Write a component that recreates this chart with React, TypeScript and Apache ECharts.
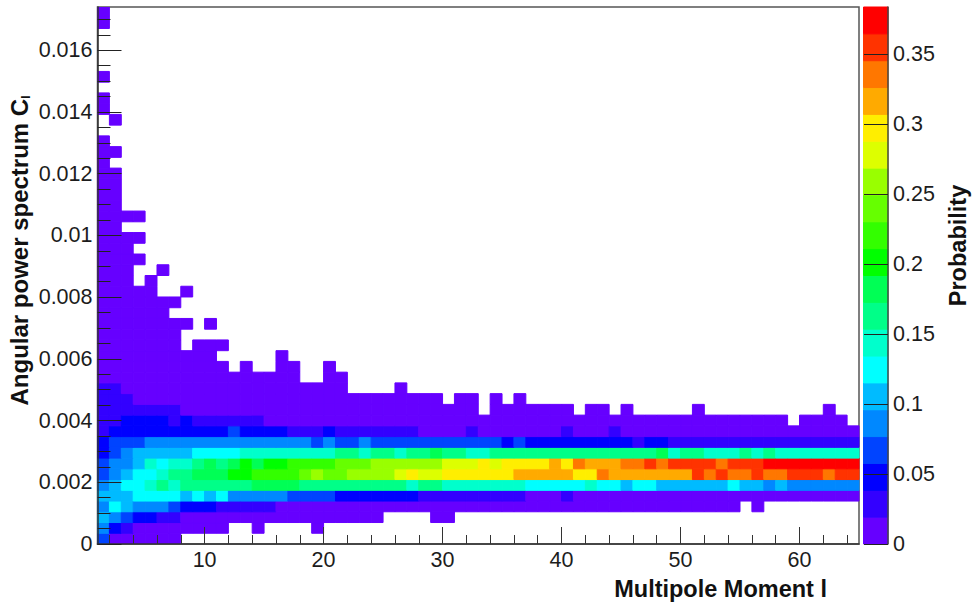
import React, { useEffect, useRef } from "react";
import * as echarts from "echarts";

// Histogram binning
const xMin = 1;
const xMax = 65;
const xBins = 64;
const yMax = 0.0174;
const yBins = 50;
const zMax = 0.3836;

// Axis ticks
const xMajor = [10, 20, 30, 40, 50, 60];
const xMinor = [2, 4, 6, 8, 12, 14, 16, 18, 22, 24, 26, 28, 32, 34, 36, 38, 42, 44, 46, 48, 52, 54, 56, 58, 62, 64];
const yMajor = [0, 0.002, 0.004, 0.006, 0.008, 0.01, 0.012, 0.014, 0.016];
const yMinor = [0.0005, 0.001, 0.0015, 0.0025, 0.003, 0.0035, 0.0045, 0.005, 0.0055, 0.0065, 0.007, 0.0075, 0.0085, 0.009, 0.0095, 0.0105, 0.011, 0.0115, 0.0125, 0.013, 0.0135, 0.0145, 0.015, 0.0155, 0.0165, 0.017];
const zMajor = [0, 0.05, 0.1, 0.15, 0.2, 0.25, 0.3, 0.35];

// Palette of the colour bar, bottom to top
const levelColors = [
  "#6600ff", "#3300ff", "#0000ff", "#0044ff", "#0088ff", "#00bbff", "#00ffff", "#00ffcc", "#00ff88", "#00ff55",
  "#00ff00", "#33ff00", "#66ff00", "#99ff00", "#ddff00", "#ffee00", "#ffaa00", "#ff7700", "#ff3300", "#ff0000",
];

// Each row (bottom to top) lists runs of [probability level, last column]; -1 is an empty bin.
const row00 = [[3, 0], [0, 6]];
const row01 = [[4, 0], [2, 1], [1, 2], [0, 10], [-1, 12], [0, 13], [-1, 17], [0, 18]];
const row02 = [[5, 0], [4, 1], [3, 2], [2, 4], [1, 6], [0, 23], [-1, 27], [0, 29]];
const row03 = [[4, 0], [6, 1], [5, 2], [4, 5], [3, 6], [2, 9], [1, 14], [0, 53], [-1, 54], [0, 55]];
const row04 = [[5, 2], [6, 6], [5, 7], [6, 8], [5, 9], [6, 10], [4, 15], [3, 19], [2, 26], [1, 35], [0, 38], [1, 39], [0, 63]];
const row05 = [[4, 0], [5, 1], [6, 3], [7, 4], [8, 5], [7, 6], [8, 12], [9, 16], [8, 25], [7, 26], [8, 28], [7, 35], [6, 40], [7, 41], [6, 43], [5, 44], [6, 46], [5, 52], [6, 53], [5, 55], [4, 56], [5, 57], [4, 63]];
const row06 = [[3, 0], [4, 1], [5, 2], [6, 4], [7, 5], [8, 7], [9, 10], [10, 12], [11, 16], [12, 17], [13, 18], [12, 20], [13, 24], [14, 25], [15, 26], [14, 28], [15, 34], [16, 39], [15, 41], [17, 42], [16, 49], [18, 50], [17, 51], [18, 52], [17, 54], [18, 55], [17, 57], [18, 60], [17, 61], [18, 63]];
const row07 = [[3, 0], [4, 2], [5, 3], [7, 4], [6, 5], [7, 7], [8, 8], [9, 9], [8, 10], [9, 11], [10, 12], [9, 13], [10, 15], [11, 19], [12, 22], [13, 28], [14, 31], [15, 32], [14, 33], [15, 37], [16, 38], [15, 39], [17, 40], [16, 43], [17, 45], [18, 46], [17, 47], [18, 51], [17, 52], [18, 55], [19, 63]];
const row08 = [[2, 0], [3, 1], [4, 2], [5, 7], [6, 11], [7, 19], [8, 21], [7, 22], [8, 24], [7, 25], [8, 27], [9, 28], [8, 30], [7, 32], [8, 46], [9, 47], [7, 48], [8, 50], [7, 53], [8, 54], [7, 55], [8, 56], [7, 63]];
const row09 = [[2, 0], [3, 3], [4, 17], [3, 18], [4, 19], [3, 21], [4, 22], [3, 33], [2, 34], [3, 35], [2, 44], [1, 45], [2, 47], [1, 63]];
const row10 = [[1, 0], [2, 10], [3, 11], [2, 15], [1, 18], [2, 19], [1, 26], [0, 30], [1, 31], [0, 38], [1, 39], [0, 42], [1, 43], [0, 63]];
const row11 = [[1, 1], [2, 5], [1, 6], [2, 7], [1, 13], [0, 57], [-1, 58], [0, 62]];
const row12 = [[1, 6], [0, 31], [-1, 32], [0, 39], [-1, 40], [0, 42], [-1, 43], [0, 44], [-1, 49], [0, 50], [-1, 60], [0, 61]];
const row13 = [[1, 2], [0, 28], [-1, 29], [0, 31], [-1, 32], [0, 33], [-1, 34], [0, 35]];
const row14 = [[1, 1], [0, 20], [-1, 24], [0, 25]];
const row15 = [[0, 16], [-1, 18], [0, 20]];
const row16 = [[0, 10], [-1, 11], [0, 12], [-1, 14], [0, 16], [-1, 18], [0, 19]];
const row17 = [[0, 9], [-1, 14], [0, 15]];
const row18 = [[0, 6], [-1, 7], [0, 10]];
const row19 = [[0, 6]];
const row20 = [[0, 7], [-1, 8], [0, 9]];
const row21 = [[0, 5]];
const row22 = [[0, 6]];
const row23 = [[0, 4], [-1, 6], [0, 7]];
const row24 = [[0, 2], [-1, 3], [0, 4]];
const row25 = [[0, 2], [-1, 4], [0, 5]];
const row26 = [[0, 3]];
const row27 = [[0, 2]];
const row28 = [[0, 3]];
const row29 = [[0, 1]];
const row30 = [[0, 3]];
const row31 = [[0, 1]];
const row32 = [[0, 1]];
const row33 = [[0, 1]];
const row34 = [[0, 1]];
const row35 = [[0, 0]];
const row36 = [[0, 1]];
const row37 = [[0, 0]];
const row38: number[][] = [];
const row39 = [[-1, 0], [0, 1]];
const row40 = [[0, 0]];
const row41 = [[0, 0]];
const row42: number[][] = [];
const row43 = [[0, 0]];
const row44: number[][] = [];
const row45: number[][] = [];
const row46: number[][] = [];
const row47: number[][] = [];
const row48 = [[0, 0]];
const row49 = [[0, 0]];

const rows = [
  row00, row01, row02, row03, row04, row05, row06, row07, row08, row09,
  row10, row11, row12, row13, row14, row15, row16, row17, row18, row19,
  row20, row21, row22, row23, row24, row25, row26, row27, row28, row29,
  row30, row31, row32, row33, row34, row35, row36, row37, row38, row39,
  row40, row41, row42, row43, row44, row45, row46, row47, row48, row49,
];

const FONT = "Liberation Sans, Arial, sans-serif";
const TEXT = "#1c1c1c";
const LINE = "#333333";
const LABEL_SIZE = 21.5;
const TITLE_SIZE = 23.5;

function buildCells() {
  const xStep = (xMax - xMin) / xBins;
  const yStep = yMax / yBins;
  const out: number[][] = [];
  rows.forEach((runs, r) => {
    let col = 0;
    runs.forEach(([level, last]) => {
      for (; col <= last; col++) {
        if (level >= 0) {
          out.push([xMin + col * xStep, xMin + (col + 1) * xStep, r * yStep, (r + 1) * yStep, level]);
        }
      }
    });
  });
  return out;
}

const barCells = levelColors.map((_, i) => [0, 1, (i * zMax) / levelColors.length, ((i + 1) * zMax) / levelColors.length, i]);

const renderBin = (_: any, api: any) => {
  const a = api.coord([api.value(0), api.value(2)]);
  const b = api.coord([api.value(1), api.value(3)]);
  const fill = levelColors[api.value(4)];
  return {
    type: "rect",
    shape: { x: a[0], y: b[1], width: b[0] - a[0], height: a[1] - b[1] },
    style: { fill, stroke: fill, lineWidth: 1 },
  };
};

const hiddenLine = { show: false };

export default function App() {
  const ref = useRef<HTMLDivElement>(null);
  useEffect(() => {
    if (!ref.current) return;
    const chart = echarts.init(ref.current, undefined, { renderer: "svg" });
    chart.setOption({
      animation: false,
      backgroundColor: "#ffffff",
      textStyle: { fontFamily: FONT },
      grid: [
        { left: 97.5, top: 7, width: 761.5, height: 537, outerBoundsMode: "none", containLabel: false, show: true, borderColor: "#555555", borderWidth: 1.5, backgroundColor: "transparent" },
        { left: 863.5, top: 7, width: 24.5, height: 537, outerBoundsMode: "none", containLabel: false },
      ],
      xAxis: [
        {
          type: "value", gridIndex: 0, min: xMin, max: xMax, position: "bottom", z: 5,
          splitLine: { show: false },
          axisLine: { show: true, onZero: false, lineStyle: { color: LINE, width: 1.5 } },
          axisTick: { show: true, inside: true, length: 17, customValues: xMajor, lineStyle: { color: LINE, width: 1 } },
          axisLabel: { show: true, customValues: xMajor, margin: 5, fontSize: LABEL_SIZE, color: TEXT, fontFamily: FONT },
          name: "Multipole Moment l",
          nameLocation: "end",
          nameGap: -32,
          nameTextStyle: { fontFamily: FONT, fontWeight: "bold", fontSize: TITLE_SIZE, color: "#111", align: "right", verticalAlign: "top", padding: [33, 0, 0, 0] },
        },
        {
          type: "value", gridIndex: 0, min: xMin, max: xMax, position: "bottom", z: 5,
          splitLine: { show: false }, axisLine: hiddenLine, axisLabel: { show: false },
          axisTick: { show: true, inside: true, length: 9, customValues: xMinor, lineStyle: { color: LINE, width: 1 } },
        },
        {
          type: "value", gridIndex: 1, min: 0, max: 1, position: "bottom",
          splitLine: { show: false }, axisLine: hiddenLine, axisLabel: { show: false }, axisTick: { show: false },
        },
      ],
      yAxis: [
        {
          type: "value", gridIndex: 0, min: 0, max: yMax, position: "left", z: 5,
          splitLine: { show: false },
          axisLine: { show: true, onZero: false, lineStyle: { color: LINE, width: 1.5 } },
          axisTick: { show: true, inside: true, length: 24, customValues: yMajor, lineStyle: { color: "#222", width: 1 } },
          axisLabel: { show: true, customValues: yMajor, margin: 5, fontSize: LABEL_SIZE, color: TEXT, fontFamily: FONT },
          name: "Angular power spectrum C{sub|l}",
          nameLocation: "middle",
          nameMoveOverlap: false,
          nameGap: 66,
          nameTextStyle: {
            fontFamily: FONT, fontWeight: "bold", fontSize: 24, color: "#111", padding: [0, 0, 0, 50],
            rich: { sub: { fontFamily: FONT, fontWeight: "bold", fontSize: 12, color: "#111", verticalAlign: "bottom", padding: [10, 0, 0, 0] } },
          },
        },
        {
          type: "value", gridIndex: 0, min: 0, max: yMax, position: "left", z: 5,
          splitLine: { show: false }, axisLine: hiddenLine, axisLabel: { show: false },
          axisTick: { show: true, inside: true, length: 13, customValues: yMinor, lineStyle: { color: "#222", width: 1 } },
        },
        {
          type: "value", gridIndex: 1, min: 0, max: zMax, position: "right", z: 5,
          splitLine: { show: false },
          axisLine: { show: true, onZero: false, lineStyle: { color: "#444", width: 1.5 } },
          axisTick: { show: true, inside: true, length: 24, customValues: zMajor, lineStyle: { color: "#222", width: 1 } },
          axisLabel: { show: true, customValues: zMajor, margin: 5, fontSize: LABEL_SIZE, color: TEXT, fontFamily: FONT },
          name: "Probability",
          nameLocation: "middle",
          nameRotate: 90,
          nameGap: 58,
          nameTextStyle: { fontFamily: FONT, fontWeight: "bold", fontSize: TITLE_SIZE, color: "#111", padding: [0, 0, 0, 60] },
        },
      ],
      series: [
        {
          type: "custom", xAxisIndex: 0, yAxisIndex: 0, renderItem: renderBin, data: buildCells(),
          encode: { x: [0, 1], y: [2, 3] }, silent: true, clip: true,
        },
        {
          type: "custom", xAxisIndex: 2, yAxisIndex: 2, renderItem: renderBin, data: barCells,
          encode: { x: [0, 1], y: [2, 3] }, silent: true,
        },
      ],
    });
    return () => chart.dispose();
  }, []);
  return <div ref={ref} style={{ position: "absolute", left: 0, top: 0, width: 972, height: 603 }} />;
}
